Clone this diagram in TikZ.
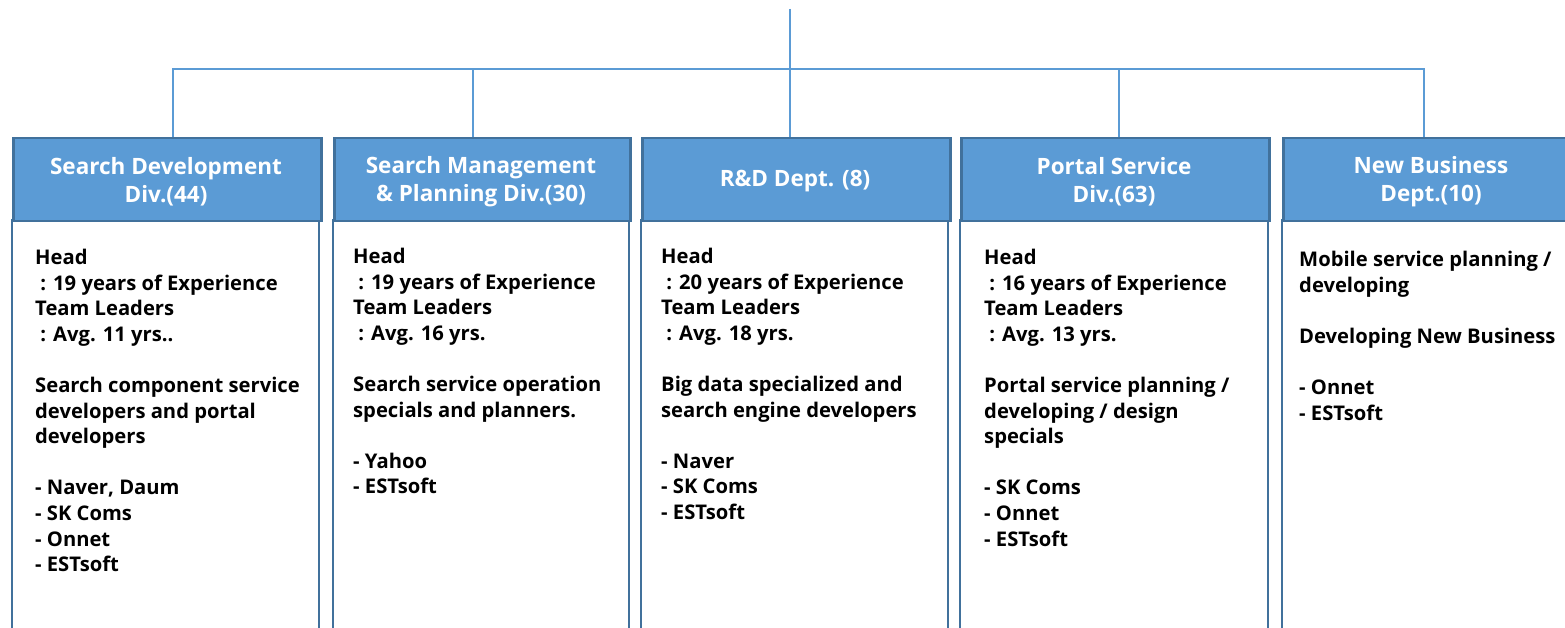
\documentclass[tikz,border=0pt]{standalone}
\usepackage{fontspec}
\setmainfont{Open Sans}
\definecolor{hfill}{HTML}{5B9BD5}
\definecolor{hdraw}{HTML}{41719C}
\definecolor{conn}{HTML}{5B9BD5}
\begin{document}
\begin{tikzpicture}[x=1pt,y=-1pt,
  hdr/.style={draw=hdraw,fill=hfill,line width=2.5pt},
  body/.style={draw=hdraw,fill=white,line width=1.8pt},
  htext/.style={text=white,font=\fontsize{22.5}{28}\selectfont\bfseries,align=center,inner sep=0pt},
  btext/.style={anchor=north west,inner sep=0pt,align=left,font=\fontsize{20.2}{25.6}\selectfont\bfseries},
  connline/.style={draw=conn,line width=1.6pt}]
\useasboundingbox (0,0) rectangle (1565,628);
\clip (0,0) rectangle (1565,628);
% body boxes
\path[body] (12,220) rectangle (319,660);
\path[body] (333,220) rectangle (629,660);
\path[body] (641,220) rectangle (948,660);
\path[body] (960,220) rectangle (1268,660);
\path[body] (1282,220) rectangle (1600,660);
% header boxes
\node[hdr,minimum width=308pt,minimum height=83pt,anchor=north west,inner sep=0pt] (h1) at (12,137) {};
\node[hdr,minimum width=296pt,minimum height=83pt,anchor=north west,inner sep=0pt] (h2) at (333,137) {};
\node[hdr,minimum width=308pt,minimum height=83pt,anchor=north west,inner sep=0pt] (h3) at (641,137) {};
\node[hdr,minimum width=308pt,minimum height=83pt,anchor=north west,inner sep=0pt] (h4) at (960,137) {};
\node[hdr,minimum width=320pt,minimum height=83pt,anchor=north west,inner sep=0pt] (h5) at (1282,137) {};
\node[htext] (t1) at (166,181.5) {Search Development\\Div.(44)};
\node[htext] (t2) at (481,181.5) {Search Management\\\& Planning Div.(30)};
\node[htext] (t3) at (795,181.5) {R\&D Dept. (8)};
\node[htext] (t4) at (1114,181.5) {Portal Service\\Div.(63)};
\node[htext] (t5) at (1431,181.5) {New Business\\Dept.(10)};
% connectors
\coordinate (top) at (790,9);
\coordinate (c1) at (173,69);
\coordinate (c2) at (473,69);
\coordinate (c3) at (790,69);
\coordinate (c4) at (1119,69);
\coordinate (c5) at (1424,69);
\draw[connline] (top) -- (top |- h3.north);
\draw[connline] (c1 |- h1.north) -- (c1) -- (c5) -- (c5 |- h5.north);
\draw[connline] (c2) -- (c2 |- h2.north);
\draw[connline] (c4) -- (c4 |- h4.north);
% body texts
\node[btext] (b1) at (35,249) {Head\\\ : 19 years of Experience\\Team Leaders\\\ : Avg. 11 yrs..\\[25.6pt]Search component service\\developers and portal\\developers\\[25.6pt]- Naver, Daum\\- SK Coms\\- Onnet\\- ESTsoft};
\node[btext] (b2) at (353,248) {Head\\\ : 19 years of Experience\\Team Leaders\\\ : Avg. 16 yrs.\\[25.6pt]Search service operation\\specials and planners.\\[25.6pt]- Yahoo\\- ESTsoft};
\node[btext] (b3) at (661,248) {Head\\\ : 20 years of Experience\\Team Leaders\\\ : Avg. 18 yrs.\\[25.6pt]Big data specialized and\\search engine developers\\[25.6pt]- Naver\\- SK Coms\\- ESTsoft};
\node[btext] (b4) at (984,249) {Head\\\ : 16 years of Experience\\Team Leaders\\\ : Avg. 13 yrs.\\[25.6pt]Portal service planning /\\developing / design\\specials\\[25.6pt]- SK Coms\\- Onnet\\- ESTsoft};
\node[btext] (b5) at (1299,251) {Mobile service planning /\\developing\\[25.6pt]Developing New Business\\[25.6pt]- Onnet\\- ESTsoft};
\end{tikzpicture}
\end{document}
